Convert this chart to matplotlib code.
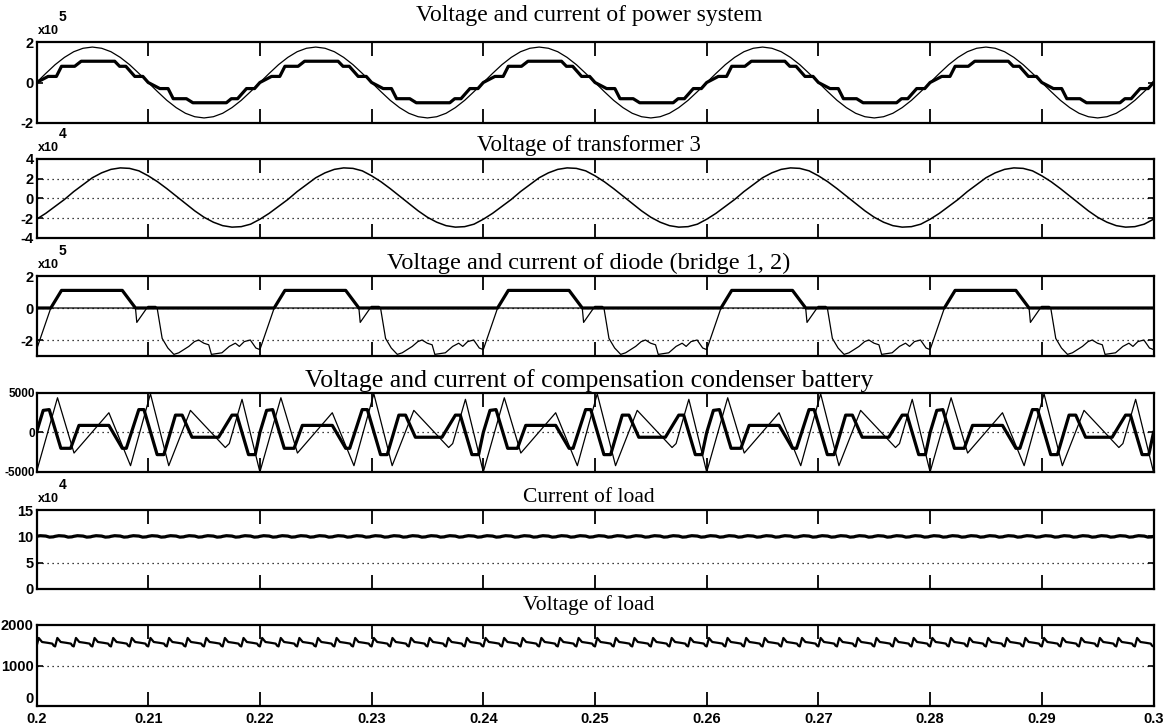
import numpy as np
import matplotlib.pyplot as plt
from matplotlib.ticker import FixedLocator, FixedFormatter

T0, PERIOD, CYCLES = 0.2, 0.02, 5
RIPPLES = 12  # ripple pulses per 50 Hz cycle on the DC side

x_ticks = [0.2, 0.21, 0.22, 0.23, 0.24, 0.25, 0.26, 0.27, 0.28, 0.29, 0.3]
x_labels = ['0.2', '0.21', '0.22', '0.23', '0.24', '0.25', '0.26', '0.27', '0.28', '0.29', '0.3']

titles = ['Voltage and current of power system',
          'Voltage of transformer 3',
          'Voltage and current of diode (bridge 1, 2)',
          'Voltage and current of compensation condenser battery',
          'Current of load',
          'Voltage of load']

# --- one 50 Hz cycle of every signal (phase as a fraction of the cycle) ---
phase24 = np.arange(24) / 24

# power system voltage, x10^5
sys_voltage = [0.0, 0.45, 0.88, 1.24, 1.52, 1.69, 1.75, 1.69, 1.52, 1.24, 0.88, 0.45,
               0.0, -0.45, -0.88, -1.24, -1.52, -1.69, -1.75, -1.69, -1.52, -1.24, -0.88, -0.45]
# power system current (staircase), x10^5
sys_current_phase = [0.0, 0.052, 0.089, 0.112, 0.171, 0.20, 0.35, 0.372, 0.40, 0.44, 0.476,
                     0.5, 0.552, 0.589, 0.612, 0.671, 0.70, 0.85, 0.872, 0.90, 0.94, 0.976]
sys_current = [0.0, 0.3, 0.3, 0.8, 0.8, 1.05, 1.05, 0.8, 0.8, 0.3, 0.3,
               0.0, -0.3, -0.3, -0.8, -0.8, -1.0, -1.0, -0.8, -0.8, -0.3, -0.3]

# transformer 3 voltage, x10^4
trafo_voltage = [-2.1, -1.5, -0.8, -0.1, 0.7, 1.4, 2.1, 2.6, 2.95, 3.1, 3.05, 2.8,
                 2.3, 1.7, 1.0, 0.25, -0.5, -1.25, -1.9, -2.4, -2.75, -2.9, -2.85, -2.6]

# diode bridge, x10^5
diode_current_phase = [0.0, 0.064, 0.112, 0.384, 0.443]
diode_current = [0.0, 0.0, 1.1, 1.1, 0.0]
diode_voltage_phase = [0.0, 0.064, 0.443, 0.449, 0.494, 0.499, 0.533, 0.540, 0.5625, 0.588,
                       0.615, 0.637, 0.682, 0.707, 0.726, 0.749, 0.771, 0.783, 0.830, 0.863,
                       0.890, 0.908, 0.930, 0.957, 0.982]
diode_voltage = [-2.6, 0.0, 0.0, -0.9, 0.0, 0.1, 0.1, 0.0, -1.9, -2.5,
                 -2.9, -2.8, -2.4, -2.1, -2.0, -2.2, -2.3, -2.9, -2.8, -2.4,
                 -2.2, -2.4, -2.1, -2.0, -2.5]

# compensation condenser battery
cap_current_phase = [0.0, 0.030, 0.057, 0.109, 0.153, 0.190, 0.324, 0.384, 0.402, 0.458, 0.481,
                     0.540, 0.570, 0.622, 0.652, 0.696, 0.815, 0.875, 0.897, 0.949, 0.979]
cap_current = [0, 2800, 2900, -2000, -2000, 900, 900, -2000, -2000, 2900, 2900,
               -2800, -2800, 2200, 2200, -600, -600, 2200, 2200, -2800, -2800]
cap_voltage_phase = [0.0, 0.094, 0.168, 0.324, 0.421, 0.510, 0.592, 0.689, 0.845, 0.863, 0.920]
cap_voltage = [-5000, 4400, -2600, 2500, -4200, 4900, -4200, 2800, -1900, -1400, 4200]

# load current ripple (x10^4) and load voltage ripple, one pulse each
load_current_phase = [0.0, 0.2, 0.5, 0.7, 0.9]
load_current = [10.0, 10.12, 10.05, 9.85, 9.9]
load_voltage_phase = [0.0, 0.12, 0.3, 0.6, 0.85, 0.92]
load_voltage = [1470, 1680, 1580, 1560, 1540, 1490]


def repeat(phase, values, n=CYCLES, period=PERIOD):
    phase = np.asarray(phase, float)
    values = np.asarray(values, float)
    t = np.concatenate([T0 + (k + phase) * period for k in range(n)] + [[T0 + n * period]])
    y = np.concatenate([values] * n + [values[:1]])
    return t, y


plt.rcParams['font.family'] = ['Liberation Sans', 'DejaVu Sans']
plt.rcParams['font.weight'] = 'bold'
plt.rcParams['axes.unicode_minus'] = False

W, H = 1164, 727
LEFT, RIGHT = 36.5, 1153.5
rows = [(42, 123), (159, 238), (276, 356), (393, 472), (510, 589), (625, 706)]
title_y = [15, 146, 263, 381, 498, 605]
title_size = [17, 16.5, 17.5, 18.5, 15.5, 15.5]

fig = plt.figure(figsize=(W / 100, H / 100), dpi=100)
fig.patch.set_facecolor('white')

axes = []
for (top, bottom), title, ty, fs in zip(rows, titles, title_y, title_size):
    ax = fig.add_axes([LEFT / W, 1 - bottom / H, (RIGHT - LEFT) / W, (bottom - top) / H])
    ax.set_xlim(0.2, 0.3)
    ax.xaxis.set_major_locator(FixedLocator(x_ticks))
    ax.xaxis.set_major_formatter(FixedFormatter(x_labels))
    ax.tick_params(axis='x', direction='in', length=10, width=1.3, top=True, bottom=True,
                   labelbottom=False, labelsize=10.5, pad=4)
    ax.tick_params(axis='y', direction='in', length=4, width=1.2, left=True, right=True,
                   labelsize=10.5, pad=2)
    for s in ax.spines.values():
        s.set_linewidth(1.6)
    fig.text((LEFT + RIGHT) / 2 / W - 0.005, 1 - ty / H, title, ha='center', va='center',
             fontsize=fs, family='Liberation Serif', weight='normal')
    axes.append(ax)


def exponent(ax, power):
    ax.annotate('x10', xy=(0, 1), xycoords='axes fraction', xytext=(1, 11),
                textcoords='offset pixels', ha='left', va='center', fontsize=9)
    ax.annotate(str(power), xy=(0, 1), xycoords='axes fraction', xytext=(22, 25),
                textcoords='offset pixels', ha='left', va='center', fontsize=10)


def dotted_grid(ax, levels):
    for lv in levels:
        ax.axhline(lv, color='k', linestyle=(0, (1, 3)), linewidth=0.9, zorder=1)


thick, thin = 2.3, 0.9

# power system
ax = axes[0]
ax.plot(*repeat(phase24, sys_voltage), color='k', lw=thin)
ax.plot(*repeat(sys_current_phase, sys_current), color='k', lw=thick)
ax.set_ylim(-2, 2)
ax.set_yticks([-2, 0, 2])
exponent(ax, 5)

# transformer 3
ax = axes[1]
dotted_grid(ax, [-2, 0, 2])
ax.plot(*repeat(phase24, trafo_voltage), color='k', lw=1.1)
ax.set_ylim(-4, 4)
ax.set_yticks([-4, -2, 0, 2, 4])
exponent(ax, 4)

# diode bridge
ax = axes[2]
dotted_grid(ax, [-2, 0])
ax.plot(*repeat(diode_voltage_phase, diode_voltage), color='k', lw=thin)
ax.plot(*repeat(diode_current_phase, diode_current), color='k', lw=thick)
ax.set_ylim(-3, 2)
ax.set_yticks([-2, 0, 2])
exponent(ax, 5)

# compensation condenser battery
ax = axes[3]
dotted_grid(ax, [0])
ax.plot(*repeat(cap_voltage_phase, cap_voltage), color='k', lw=thin)
ax.plot(*repeat(cap_current_phase, cap_current), color='k', lw=thick)
ax.set_ylim(-5000, 5000)
ax.set_yticks([-5000, 0, 5000])
ax.tick_params(axis='y', labelsize=8.5, pad=1)

# load current
ax = axes[4]
dotted_grid(ax, [5])
ax.plot(*repeat(load_current_phase, load_current, CYCLES * RIPPLES, PERIOD / RIPPLES),
        color='k', lw=thick)
ax.set_ylim(0, 15)
ax.set_yticks([0, 5, 10, 15])
exponent(ax, 4)

# load voltage
ax = axes[5]
dotted_grid(ax, [1000])
ax.plot(*repeat(load_voltage_phase, load_voltage, CYCLES * RIPPLES, PERIOD / RIPPLES),
        color='k', lw=1.6)
ax.set_ylim(0, 2000)
ax.set_yticks([0, 1000, 2000])
ax.tick_params(axis='x', labelbottom=True)
# keep the bottom "0" clear of the time labels
ax.get_yticklabels()[0].set_verticalalignment('bottom')

fig.savefig('out.png', dpi=100)
